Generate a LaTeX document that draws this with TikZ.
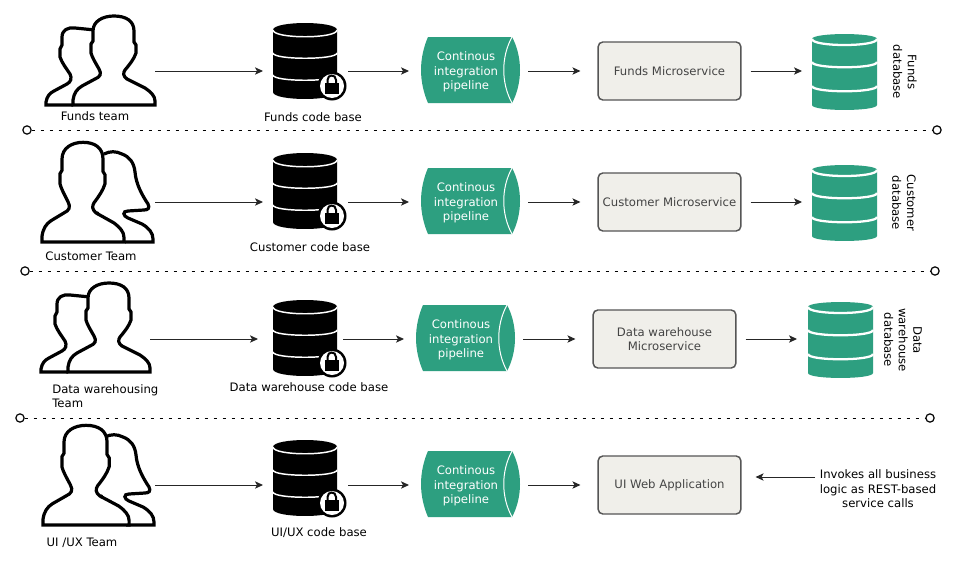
\documentclass[tikz,border=0pt]{standalone}
\usepackage{fontspec}
\setmainfont{DejaVu Sans}
\usetikzlibrary{arrows.meta}
\definecolor{grn}{HTML}{2D9F80}
\definecolor{boxfill}{HTML}{F0EFEA}
\definecolor{boxline}{HTML}{555555}
\definecolor{boxtext}{HTML}{444444}
\newcommand{\lbl}{\fontsize{8.75}{10.9}\selectfont}
\tikzset{
  port/.style={inner sep=0pt,outer sep=0pt,minimum height=1pt},
  arr/.style={draw=black!85,line width=.75pt,-{Stealth[length=6pt,width=5.5pt,inset=1.5pt]}},
  sepline/.style={draw=black,line width=.75pt,dash pattern=on 2.6pt off 4.15pt},
  endc/.style={circle,draw=black,line width=.9pt,fill=white,minimum size=6.2pt,inner sep=0pt},
  svc/.style={draw=boxline,line width=1.1pt,rounded corners=3.5pt,fill=boxfill,text=boxtext,minimum width=107pt,minimum height=43.5pt,inner sep=1pt,align=center,font=\lbl},
  capt/.style={inner sep=0pt,font=\lbl,text=black,align=center},
  gtext/.style={inner sep=0pt,font=\lbl,text=white,align=center},
  outline/.style={draw=black,line width=2.4pt,line join=miter,miter limit=3},
}
\newcommand{\ManPath}{(0,0) -- (0,-5) .. controls (1,-12) and (4,-16) .. (9,-19) -- (22,-26) .. controls (27,-28) and (29,-31) .. (26,-36) .. controls (22,-43) and (19,-48) .. (18,-52) -- (18,-61) -- (20,-64) -- (20,-74) .. controls (20,-84) and (30,-89) .. (41,-89) .. controls (53,-89) and (61,-84) .. (61,-74) -- (61,-63) -- (63,-60) -- (63,-52) .. controls (61,-46) and (57,-41) .. (52,-35) .. controls (50,-32) and (50,-29) .. (54,-26) -- (72,-17) .. controls (78,-13) and (82,-9) .. (82,-4) -- (82,0) -- cycle}
% two men: #1 = origin
\newcommand{\TwoMen}[1]{\begin{scope}[shift={(#1)}]
  \draw[outline] (0,0) -- (-27,0) -- (-27,-3) .. controls (-26,-9) and (-23,-12) .. (-19,-14) -- (-6,-21) .. controls (-2,-23) and (-1,-27) .. (-3,-31) .. controls (-7,-37) and (-11,-42) .. (-13,-48) -- (-13,-56) -- (-11,-60) -- (-11,-68) .. controls (-11,-75) and (-5,-78) .. (2,-77) -- (22,-75);
  \draw[outline,fill=white] \ManPath;
\end{scope}}
% man and woman: #1 = origin, #2 x scale
\newcommand{\ManWoman}[2]{\begin{scope}[shift={(#1)}]
  \draw[outline] (62,-88) .. controls (68,-91) and (74,-91) .. (80,-88) .. controls (88,-85) and (92,-79) .. (93,-70) .. controls (94,-58) and (100,-47) .. (106,-38) .. controls (108,-34) and (106,-32) .. (102,-32) -- (86,-31) .. controls (80,-31) and (81,-26) .. (86,-24) -- (100,-18) .. controls (107,-14) and (111,-9) .. (111,-3) -- (111,0) -- (83,0);
  \begin{scope}[xscale=#2,yscale=1.12]
    \draw[outline,fill=white] \ManPath;
    \fill (55.5,-25.5) circle[radius=1.8];
  \end{scope}
\end{scope}}
\newcommand{\CodeDb}[1]{\begin{scope}[shift={(#1)}]
  \fill[black] (0,7) .. controls (0,-2.3) and (64,-2.3) .. (64,7) -- (64,69) .. controls (64,78.3) and (0,78.3) .. (0,69) -- cycle;
  \draw[white,line width=1.1pt] (0,7) .. controls (0,16) and (64,16) .. (64,7);
  \draw[white,line width=1.1pt] (0,30) .. controls (0,37) and (64,37) .. (64,30);
  \draw[white,line width=1.1pt] (0,52) .. controls (0,59) and (64,59) .. (64,52);
  \fill[black] (59,63) circle[radius=14.5];
  \fill[white] (59,63) circle[radius=12];
  \fill[black] (51.5,59.5) rectangle (66,71) ;
  \draw[black,line width=1.5pt] (54.5,60) -- (54.5,57) .. controls (54.5,51) and (63,51) .. (63,57) -- (63,60);
\end{scope}}
\newcommand{\Pipe}[1]{\begin{scope}[shift={(#1)}]
  \fill[grn] (7,0) -- (91,0) .. controls (96,9) and (99,21) .. (99,33) .. controls (99,45) and (96,57) .. (91,66) -- (7,66) .. controls (3,57) and (0,45) .. (0,33) .. controls (0,21) and (3,9) .. (7,0) -- cycle;
  \draw[white,line width=.75pt] (91,0) .. controls (80,20) and (80,46) .. (91,66);
\end{scope}}
\newcommand{\GreenDb}[1]{\begin{scope}[shift={(#1)}]
  \fill[grn] (0,5) .. controls (0,-1.6) and (65,-1.6) .. (65,5) -- (65,71) .. controls (65,77.6) and (0,77.6) .. (0,71) -- cycle;
  \draw[white,line width=1.7pt] (0,5) .. controls (0,13) and (65,13) .. (65,5);
  \draw[white,line width=1.7pt] (0,28) .. controls (0,35) and (65,35) .. (65,28);
  \draw[white,line width=1.7pt] (0,52) .. controls (0,59) and (65,59) .. (65,52);
\end{scope}}
% #1 name, #2 dx, #3 dy, #4 code db origin, #5 service text
\newcommand{\RowParts}[5]{
  \CodeDb{#4}
  \Pipe{421+#2,37+#3}
  \node[gtext] (pt#1) at (466+#2,71.8+#3) {Continous\\integration\\pipeline};
  \node[port,anchor=east,minimum width=1pt] (t#1) at (155+#2,71+#3) {};
  \node[port,minimum width=63.75pt] (c#1) at (305.5+#2,71+#3) {};
  \node[port,minimum width=89.25pt] (p#1) at (468.5+#2,71+#3) {};
  \node[svc] (s#1) at (669.5+#2,71+#3) {#5};
  \draw[arr] (t#1) -- (c#1);
  \draw[arr] (c#1) -- (p#1);
  \draw[arr,shorten >=12.75pt] (p#1) -- (s#1);
}
\begin{document}
\begin{tikzpicture}[x=.75pt,y=-.75pt]
\useasboundingbox (0,0) rectangle (956,564);
\fill[white] (0,0) rectangle (956,564);

% people
\TwoMen{73,105}
\ManWoman{42,242}{1}
\TwoMen{68,372}
\ManWoman{43,525}{1.05}

% rows
\RowParts{1}{0}{0}{273,23}{Funds Microservice}
\RowParts{2}{0}{131}{273,153}{Customer Microservice}
\RowParts{3}{-5}{268}{273,300}{Data warehouse\\Microservice}
\RowParts{4}{0}{414}{273,440}{UI Web Application}

% databases
\GreenDb{812,34}
\GreenDb{812,165}
\GreenDb{808,302}
\node[port,anchor=west,minimum width=1pt] (d1) at (802,71) {};
\node[port,anchor=west,minimum width=1pt] (d2) at (802,202) {};
\node[port,anchor=west,minimum width=1pt] (d3) at (797,339) {};
\draw[arr,shorten <=6.75pt] (s1) -- (d1);
\draw[arr,shorten <=6.75pt] (s2) -- (d2);
\draw[arr,shorten <=6.75pt] (s3) -- (d3);

% captions
\node[capt] (ct1) at (95,116) {Funds team};
\node[capt] (cc1) at (313,117) {Funds code base};
\node[capt] (ct2) at (91,256) {Customer Team};
\node[capt] (cc2) at (310,247) {Customer code base};
\node[capt,align=left,anchor=north west] (ct3) at (52,384) {Data warehousing\\Team};
\node[capt] (cc3) at (309,387) {Data warehouse code base};
\node[capt] (ct4) at (82,543) {UI /UX Team};
\node[capt] (cc4) at (319,533) {UI/UX code base};
\node[capt,rotate=-90] (db1) at (905,72) {Funds\\database};
\node[capt,rotate=-90] (db2) at (904,203) {Customer\\database};
\node[capt,rotate=-90] (db3) at (903,340) {Data\\warehouse\\database};
\node[capt] (inv) at (878,489) {Invokes all business\\logic as REST-based\\service calls};
\node[port,anchor=west,minimum width=1pt] (e4) at (815,477) {};
\draw[arr,shorten >=10.5pt] (e4) -- (s4.east |- e4);

% separators
\node[endc] (a1) at (27,130) {};
\node[endc] (b1) at (937,130) {};
\node[endc] (a2) at (25,271) {};
\node[endc] (b2) at (935,271) {};
\node[endc] (a3) at (20,418) {};
\node[endc] (b3) at (930,418) {};
\draw[sepline] (a1) -- (b1);
\draw[sepline] (a2) -- (b2);
\draw[sepline] (a3) -- (b3);
\end{tikzpicture}
\end{document}
